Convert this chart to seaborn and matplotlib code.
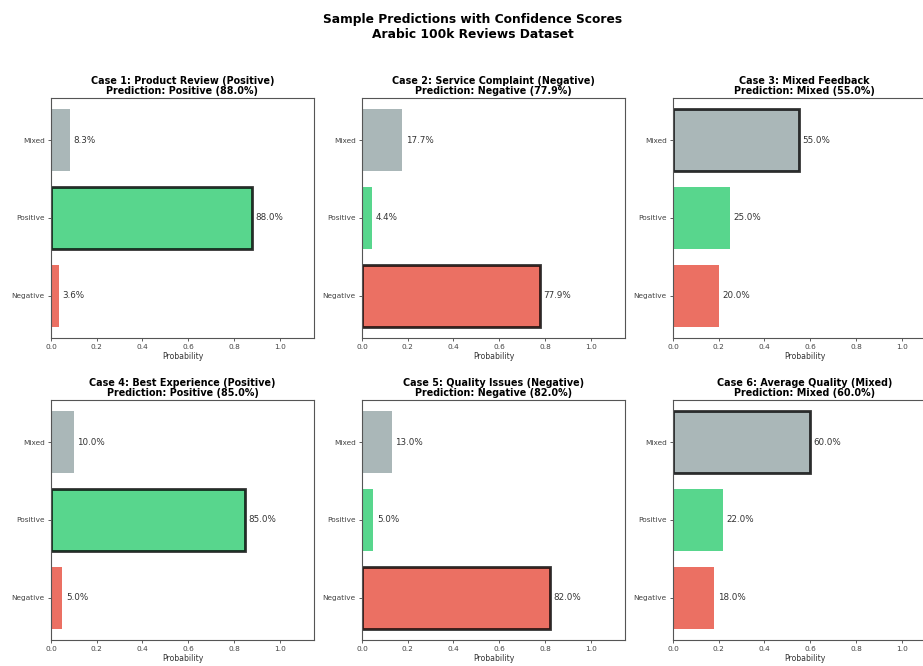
import matplotlib
matplotlib.use("Agg")
import matplotlib.pyplot as plt
import seaborn as sns
import pandas as pd

# Sentiment classes, listed top to bottom in each panel
classes = ["Mixed", "Positive", "Negative"]
class_colors = ["#95a5a6", "#2ecc71", "#e74c3c"]

case_titles = [
    "Case 1: Product Review (Positive)",
    "Case 2: Service Complaint (Negative)",
    "Case 3: Mixed Feedback",
    "Case 4: Best Experience (Positive)",
    "Case 5: Quality Issues (Negative)",
    "Case 6: Average Quality (Mixed)",
]
predicted = ["Positive", "Negative", "Mixed", "Positive", "Negative", "Mixed"]

# Probabilities per case, in the order Mixed, Positive, Negative
case1 = [0.083, 0.880, 0.036]
case2 = [0.177, 0.044, 0.779]
case3 = [0.550, 0.250, 0.200]
case4 = [0.100, 0.850, 0.050]
case5 = [0.130, 0.050, 0.820]
case6 = [0.600, 0.220, 0.180]
cases = [case1, case2, case3, case4, case5, case6]

W, H = 923, 666
fig = plt.figure(figsize=(W / 100, H / 100), dpi=100)
fig.patch.set_facecolor("white")

fig.text(473 / W, 1 - 27 / H,
         "Sample Predictions with Confidence Scores\nArabic 100k Reviews Dataset",
         ha="center", va="center", fontsize=8.8, fontweight="bold", linespacing=1.1)

col_left = [51, 362, 673]
row_top = [98, 400]
ax_w, ax_h = 263, 240

for i, (probs, title, pred) in enumerate(zip(cases, case_titles, predicted)):
    r, c = divmod(i, 3)
    left = col_left[c]
    top = row_top[r]
    ax = fig.add_axes([left / W, 1 - (top + ax_h) / H, ax_w / W, ax_h / H])

    df = pd.DataFrame({"Sentiment": classes, "Probability": probs})
    sns.barplot(data=df, y="Sentiment", x="Probability", hue="Sentiment",
                palette=class_colors, order=classes, hue_order=classes,
                orient="h", width=0.8, alpha=0.8, legend=False, ax=ax,
                saturation=1)

    # Outline the predicted class
    for patch, cls in zip(ax.patches, classes):
        if cls == pred:
            patch.set_edgecolor("black")
            patch.set_linewidth(2.0)
        else:
            patch.set_linewidth(0)

    for y, p in enumerate(probs):
        ax.text(p + 0.015, y, f"{p * 100:.1f}%", va="center", ha="left",
                fontsize=6.3, color="#333333")

    ax.set_xlim(0, 1.15)
    ax.set_ylim(2.54, -0.54)
    ax.set_xticks([0.0, 0.2, 0.4, 0.6, 0.8, 1.0])
    ax.set_xticklabels(["0.0", "0.2", "0.4", "0.6", "0.8", "1.0"])
    ax.set_ylabel("")
    ax.set_xlabel("Probability", fontsize=5.6, labelpad=1.5, color="#333333")
    ax.set_title(f"{title}\nPrediction: {pred} ({probs[classes.index(pred)] * 100:.1f}%)",
                 fontsize=6.9, fontweight="bold", pad=3, linespacing=1.0)
    ax.tick_params(axis="both", labelsize=5.3, length=2.5, width=0.6,
                   colors="#444444", pad=2)
    for s in ax.spines.values():
        s.set_color("#555555")
        s.set_linewidth(0.8)

fig.savefig("out.png", dpi=100, facecolor="white")
